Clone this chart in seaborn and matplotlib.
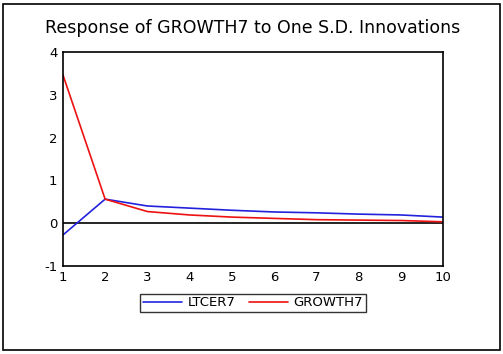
import matplotlib
matplotlib.use("Agg")
import matplotlib.pyplot as plt
import seaborn as sns
import pandas as pd
from matplotlib.patches import Rectangle

periods = [1, 2, 3, 4, 5, 6, 7, 8, 9, 10]
ltcer7 = [-0.28, 0.56, 0.40, 0.35, 0.30, 0.26, 0.24, 0.21, 0.19, 0.14]
growth7 = [3.47, 0.56, 0.27, 0.19, 0.14, 0.11, 0.08, 0.07, 0.06, 0.03]
series_names = ["LTCER7", "GROWTH7"]
series_colors = ["#2222dd", "#ee1111"]
y_ticks = [-1, 0, 1, 2, 3, 4]

sns.set_style("white")
plt.rcParams['font.family'] = ['DejaVu Sans']
plt.rcParams['axes.unicode_minus'] = False
plt.rcParams['text.color'] = 'black'
plt.rcParams['xtick.color'] = 'black'
plt.rcParams['ytick.color'] = 'black'

df = pd.DataFrame({"period": periods * 2,
                   "value": ltcer7 + growth7,
                   "series": [series_names[0]] * len(periods) + [series_names[1]] * len(periods)})

fig = plt.figure(figsize=(5.03, 3.54), dpi=100)
ax = fig.add_axes([0.125, 0.249, 0.756, 0.604])
sns.lineplot(data=df, x="period", y="value", hue="series",
             palette=dict(zip(series_names, series_colors)), ax=ax, linewidth=1.2)
ax.axhline(0, color="black", linewidth=1.2, zorder=0)
ax.set_xlim(1, 10)
ax.set_ylim(-1, 4)
ax.set_xticks(periods)
ax.set_yticks(y_ticks)
ax.set_xlabel("")
ax.set_ylabel("")
for s in ax.spines.values():
    s.set_color("black")
    s.set_linewidth(1.2)
ax.tick_params(axis="both", direction="out", length=3, width=1, labelsize=9.5, pad=1)
ax.set_title("Response of GROWTH7 to One S.D. Innovations", fontsize=12.5, pad=14,
             color="black")
leg = ax.legend(loc="upper center", bbox_to_anchor=(0.5, -0.1), ncol=2, frameon=True,
                fancybox=False, edgecolor="black", fontsize=9.5, handlelength=3,
                borderpad=0.2, columnspacing=1.0, handletextpad=0.4)
leg.get_frame().set_linewidth(1.0)
fig.patches.append(Rectangle((0.006, 0.012), 0.988, 0.976, transform=fig.transFigure,
                             fill=False, edgecolor="black", linewidth=1.2))
fig.savefig("out.png", dpi=100)
